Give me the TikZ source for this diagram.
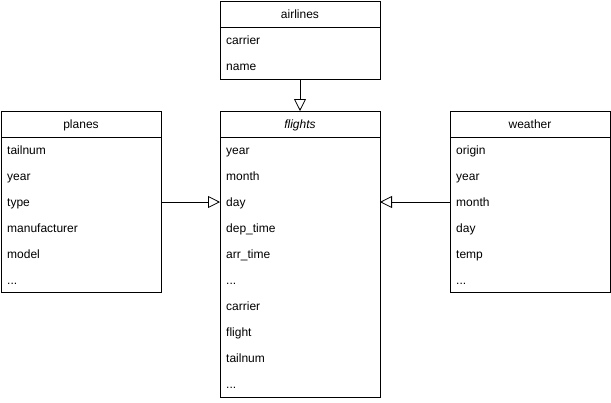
\documentclass[tikz,border=0pt]{standalone}
\usepackage{fontspec}
\setmainfont{Liberation Sans}
\usetikzlibrary{arrows.meta}
\newcommand\tdots{...}
\begin{document}
\begin{tikzpicture}[x=1pt,y=-1pt,
  box/.style={draw=black,line width=0.8pt,fill=white},
  hdr/.style={font=\fontsize{12}{14}\selectfont,anchor=base,inner sep=0pt},
  fld/.style={font=\fontsize{12}{14}\selectfont,anchor=base west,inner sep=0pt},
  conn/.style={draw=black,line width=0.8pt,-{Triangle[open,length=12pt,width=12pt,fill=white]}}]
\useasboundingbox (0,0) rectangle (611,402);
% airlines
\draw[box] (220,1) rectangle (380,79);
\draw[line width=0.8pt] (220,27) -- (380,27);
\node[hdr] (airlinesh) at (300,18.5) {airlines};
\node[fld] (a1) at (226,44.5) {carrier};
\node[fld] (a2) at (226,70.5) {name};
\coordinate (airB) at (300,79);
% planes
\draw[box] (1,111) rectangle (161,292);
\draw[line width=0.8pt] (1,137) -- (161,137);
\node[hdr] (planesh) at (81,128.5) {planes};
\foreach \t [count=\i] in {tailnum,year,type,manufacturer,model,\tdots}
  \node[fld] (p\i) at (7,128.5+26*\i) {\t};
\coordinate (plR) at (161,202);
% flights
\draw[box] (220,111) rectangle (380,397);
\draw[line width=0.8pt] (220,137) -- (380,137);
\node[hdr] (flightsh) at (300,128.5) {\itshape flights};
\foreach \t [count=\i] in {year,month,day,dep\_time,arr\_time,\tdots,carrier,flight,tailnum,\tdots}
  \node[fld] (f\i) at (226,128.5+26*\i) {\t};
\coordinate (flT) at (300,111);
\coordinate (flL) at (220,202);
\coordinate (flR) at (380,202);
% weather
\draw[box] (450,111) rectangle (610,292);
\draw[line width=0.8pt] (450,137) -- (610,137);
\node[hdr] (weatherh) at (530,128.5) {weather};
\foreach \t [count=\i] in {origin,year,month,day,temp,\tdots}
  \node[fld] (w\i) at (456,128.5+26*\i) {\t};
\coordinate (weL) at (450,202);
% connectors
\draw[conn] (airB) -- (flT);
\draw[conn] (plR) -- (flL);
\draw[conn] (weL) -- (flR);
\end{tikzpicture}
\end{document}
